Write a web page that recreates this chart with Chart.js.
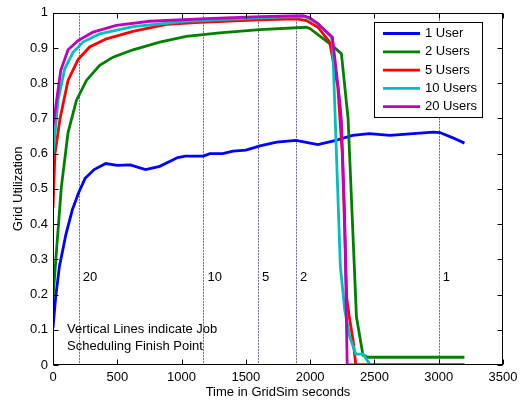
<!DOCTYPE html>
<html><head><meta charset="utf-8">
<script src="https://cdn.jsdelivr.net/npm/chart.js@4.4.0/dist/chart.umd.min.js"></script>
<style>html,body{margin:0;padding:0;background:#fff;}#wrap{width:523px;height:403px;}</style>
</head><body><div id="wrap"><canvas id="c" width="523" height="403"></canvas></div>
<script>
const seriesNames = ['1 User', '2 Users', '5 Users', '10 Users', '20 Users'];
const seriesColors = ['#0000ff', '#008000', '#ff0000', '#00bfbf', '#bf00bf'];

const t1 = [0, 20, 50, 100, 150, 200, 250, 320, 410, 500, 600, 720, 830, 970, 1030, 1170, 1220, 1320, 1400, 1500, 1610, 1740, 1890, 2060, 2200, 2330, 2460, 2620, 2800, 2960, 3010, 3110, 3200];
const v1 = [0.105, 0.19, 0.28, 0.37, 0.44, 0.49, 0.53, 0.555, 0.572, 0.567, 0.568, 0.555, 0.564, 0.589, 0.593, 0.593, 0.600, 0.600, 0.607, 0.610, 0.622, 0.633, 0.638, 0.626, 0.638, 0.652, 0.657, 0.652, 0.657, 0.661, 0.660, 0.645, 0.630];

const t2 = [0, 26, 65, 117, 182, 260, 363, 467, 622, 830, 1037, 1297, 1608, 1970, 2000, 2165, 2243, 2295, 2360, 2411, 2450, 3200];
const v2 = [0.19, 0.32, 0.506, 0.66, 0.751, 0.808, 0.851, 0.874, 0.895, 0.917, 0.933, 0.943, 0.952, 0.959, 0.955, 0.909, 0.884, 0.70, 0.137, 0.028, 0.022, 0.022];

const t5 = [0, 15, 55, 117, 195, 285, 415, 622, 882, 1141, 1608, 1893, 1971, 2061, 2152, 2215, 2250, 2285, 2303, 2334, 2355, 3200];
const v5 = [0.445, 0.60, 0.70, 0.808, 0.867, 0.903, 0.926, 0.947, 0.967, 0.973, 0.980, 0.983, 0.978, 0.959, 0.917, 0.79, 0.60, 0.19, 0.14, 0.07, 0, 0];

const t10 = [0, 39, 91, 156, 233, 363, 622, 1037, 1608, 1893, 1971, 2061, 2165, 2175, 2235, 2269, 2308, 2355, 2411, 2469, 3200];
const v10 = [0.595, 0.751, 0.841, 0.888, 0.917, 0.940, 0.961, 0.976, 0.986, 0.989, 0.988, 0.969, 0.931, 0.91, 0.28, 0.156, 0.08, 0.031, 0.031, 0, 0];

const t20 = [0, 60, 117, 195, 311, 493, 752, 1141, 1608, 1945, 1997, 2061, 2173, 2230, 2243, 2269, 2288, 3200];
const v20 = [0.676, 0.836, 0.895, 0.921, 0.945, 0.964, 0.976, 0.983, 0.989, 0.992, 0.986, 0.969, 0.931, 0.75, 0.695, 0.42, 0, 0];

const seriesTimes = [t1, t2, t5, t10, t20];
const seriesValues = [v1, v2, v5, v10, v20];

const finishTimes = [200, 1170, 1595, 1890, 3000];
const finishLabels = ['20', '10', '5', '2', '1'];
const noteLines = ['Vertical Lines indicate Job', 'Scheduling Finish Point'];

const xTicks = [0, 500, 1000, 1500, 2000, 2500, 3000, 3500];
const xTickLabels = ['0', '500', '1000', '1500', '2000', '2500', '3000', '3500'];
const yTicks = [0, 0.1, 0.2, 0.3, 0.4, 0.5, 0.6, 0.7, 0.8, 0.9, 1];
const yTickLabels = ['0', '0.1', '0.2', '0.3', '0.4', '0.5', '0.6', '0.7', '0.8', '0.9', '1'];
const xTitle = 'Time in GridSim seconds';
const yTitle = 'Grid Utilization';

const FONT = "'Liberation Sans', Arial, Helvetica, sans-serif";

const datasets = seriesNames.map((name, i) => ({
  label: name,
  data: seriesTimes[i].map((t, j) => ({x: t, y: seriesValues[i][j]})),
  borderColor: seriesColors[i],
  backgroundColor: seriesColors[i],
  borderWidth: 2.8,
  pointRadius: 0,
  tension: 0,
  fill: false,
  order: seriesNames.length - i
}));

const decor = {
  id: 'decor',
  beforeDatasetsDraw(chart) {
    const {ctx, chartArea: a, scales: {x, y}} = chart;
    ctx.save();
    ctx.strokeStyle = 'rgba(95,85,150,0.9)';
    ctx.lineWidth = 1;
    ctx.setLineDash([2, 1]);
    finishTimes.forEach((t) => {
      const px = Math.round(x.getPixelForValue(t)) + 0.5;
      ctx.beginPath(); ctx.moveTo(px, a.top); ctx.lineTo(px, a.bottom); ctx.stroke();
    });
    ctx.setLineDash([]);
    ctx.fillStyle = '#000';
    ctx.font = '13px ' + FONT;
    ctx.textAlign = 'left';
    ctx.textBaseline = 'middle';
    finishTimes.forEach((t, i) => {
      ctx.fillText(finishLabels[i], x.getPixelForValue(t) + 4, y.getPixelForValue(0.25));
    });
    noteLines.forEach((s, i) => {
      ctx.fillText(s, a.left + 14, y.getPixelForValue(0.1) + i * 17);
    });
    ctx.restore();
  },
  afterDatasetsDraw(chart) {
    const {ctx, chartArea: a, scales: {x, y}} = chart;
    ctx.save();
    ctx.strokeStyle = '#000';
    ctx.lineWidth = 1;
    const L = Math.round(a.left) + 0.5, R = Math.round(a.right) - 0.5;
    const T = Math.round(a.top) + 0.5, B = Math.round(a.bottom) - 0.5;
    ctx.strokeRect(L, T, R - L, B - T);
    ctx.beginPath();
    xTicks.forEach((t) => {
      const px = Math.round(x.getPixelForValue(t)) + 0.5;
      ctx.moveTo(px, B); ctx.lineTo(px, B - 5);
      ctx.moveTo(px, T); ctx.lineTo(px, T + 5);
    });
    yTicks.forEach((v) => {
      const py = Math.round(y.getPixelForValue(v)) + 0.5;
      ctx.moveTo(L, py); ctx.lineTo(L + 5, py);
      ctx.moveTo(R, py); ctx.lineTo(R - 5, py);
    });
    ctx.stroke();
    const lx = 374.5, ly = 22.5, lw = 108, lh = 95;
    ctx.fillStyle = '#fff';
    ctx.fillRect(lx, ly, lw, lh);
    ctx.strokeRect(lx, ly, lw, lh);
    ctx.font = '13px ' + FONT;
    ctx.textAlign = 'left';
    ctx.textBaseline = 'middle';
    seriesNames.forEach((n, i) => {
      const yy = 33.5 + i * 18.3;
      ctx.strokeStyle = seriesColors[i];
      ctx.lineWidth = 2.8;
      ctx.beginPath(); ctx.moveTo(383, yy); ctx.lineTo(420, yy); ctx.stroke();
      ctx.fillStyle = '#000';
      ctx.fillText(n, 425, yy);
    });
    ctx.restore();
  }
};

new Chart(document.getElementById('c'), {
  type: 'line',
  data: {datasets},
  plugins: [decor],
  options: {
    responsive: false,
    devicePixelRatio: 1,
    animation: false,
    layout: {padding: {left: 0, top: 12, right: 20, bottom: 0}},
    plugins: {legend: {display: false}, tooltip: {enabled: false}},
    scales: {
      x: {
        type: 'linear', min: 0, max: 3500,
        afterBuildTicks: (s) => { s.ticks = xTicks.map(v => ({value: v})); },
        afterFit: (s) => { s.height = 38; },
        grid: {display: true, drawOnChartArea: false, drawTicks: false},
        border: {display: false},
        ticks: {color: '#000', padding: 5, maxRotation: 0, autoSkip: false, font: {size: 13, family: FONT},
          callback: (v) => { const k = xTicks.indexOf(v); return k >= 0 ? xTickLabels[k] : ''; }},
        title: {display: true, text: xTitle, color: '#000', font: {size: 13, family: FONT}, padding: {top: 0, bottom: 3}}
      },
      y: {
        type: 'linear', min: 0, max: 1,
        afterBuildTicks: (s) => { s.ticks = yTicks.map(v => ({value: v})); },
        afterFit: (s) => { s.width = 53; },
        grid: {display: true, drawOnChartArea: false, drawTicks: false},
        border: {display: false},
        ticks: {color: '#000', padding: 5, autoSkip: false, font: {size: 13, family: FONT},
          callback: (v) => { const k = yTicks.findIndex(t => Math.abs(t - v) < 1e-9); return k >= 0 ? yTickLabels[k] : ''; }},
        title: {display: true, text: yTitle, color: '#000', font: {size: 13, family: FONT}, padding: {top: 11, bottom: 0}}
      }
    }
  }
});
</script></body></html>
